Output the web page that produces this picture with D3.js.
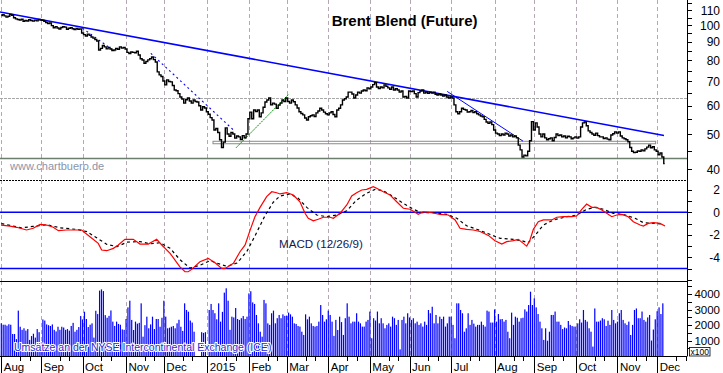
<!DOCTYPE html>
<html><head><meta charset="utf-8">
<script src="https://cdn.jsdelivr.net/npm/d3@7/dist/d3.min.js"></script>
<style>html,body{margin:0;padding:0;background:#fff;}svg{display:block;font-family:"Liberation Sans",Arial,sans-serif;}</style>
</head><body><svg id="c" width="723" height="373"></svg>
<script>
// ---- DATA (trading-day index 0 = 1 Aug 2014) ----
const closes = [
 // Aug 2014
 106.5,107.0,106.2,105.4,106.0,107.1,106.6,105.0,104.2,103.8,103.5,104.0,102.6,103.2,102.8,103.6,103.1,102.7,103.4,102.9,103.8,
 // Sep
 103.5,103.3,102.6,101.8,101.2,101.5,99.8,98.5,99.2,98.3,97.7,98.6,99.1,98.9,97.6,98.2,98.5,97.9,97.3,98.0,97.6,97.8,
 // Oct
 95.3,94.3,93.5,94.6,93.8,92.9,92.2,91.4,90.5,85.5,86.4,88.0,87.2,86.1,86.9,86.0,85.2,85.5,86.3,85.9,87.2,86.5,86.9,
 // Nov
 86.0,84.2,83.6,84.4,84.2,84.0,84.8,82.8,80.9,80.2,78.6,79.5,80.3,80.9,81.8,80.4,79.2,74.4,73.0,72.2,
 // Dec
 70.2,68.5,70.7,70.0,69.8,68.2,66.3,66.0,64.8,63.4,62.6,61.0,62.3,63.0,61.8,61.0,62.2,61.6,61.4,60.0,58.4,59.6,59.1,
 // Jan 2015
 57.7,56.8,55.6,54.8,51.4,51.9,50.6,48.3,46.0,47.6,52.1,50.1,49.4,50.6,50.1,48.8,49.5,49.2,48.4,49.6,48.9,50.1,
 // Feb
 55.2,57.6,55.2,58.4,57.8,58.4,55.9,57.3,59.4,61.4,62.2,63.0,60.3,61.0,60.6,59.0,60.2,61.0,62.2,61.6,
 // Mar
 63.0,61.6,61.0,62.2,61.5,60.3,59.1,57.7,57.1,56.6,55.5,54.8,55.9,56.3,56.6,56.0,57.3,58.0,59.0,58.4,57.6,57.0,
 // Apr
 56.6,57.3,57.7,56.7,55.9,58.4,59.0,60.3,62.2,62.7,63.4,65.4,65.4,64.6,63.0,64.2,65.4,65.0,65.9,66.3,66.0,67.2,
 // May
 66.8,67.6,68.6,69.4,67.6,66.9,67.6,67.2,68.5,67.9,67.2,66.6,67.6,66.3,66.8,66.3,65.4,65.9,63.4,63.6,63.0,
 // Jun
 65.9,65.6,65.9,64.8,63.4,65.2,65.9,66.3,65.0,65.4,64.9,65.4,65.0,65.4,64.5,64.2,64.6,64.2,63.8,64.2,63.4,63.0,
 // Jul
 63.4,63.0,60.3,57.7,57.0,57.7,59.0,58.6,58.4,57.6,57.7,58.2,57.4,57.7,57.0,56.6,56.2,55.9,55.0,54.1,53.6,54.1,53.2,
 // Aug
 51.4,50.4,50.1,49.6,50.1,49.8,50.4,50.1,49.5,49.8,49.2,49.5,48.9,46.7,45.3,43.3,43.8,43.6,44.9,48.0,54.2,
 // Sep
 51.4,53.8,52.4,50.1,49.2,50.1,48.9,48.3,48.6,48.9,48.0,49.0,50.1,49.6,49.8,49.2,49.5,48.9,49.4,49.2,48.6,48.9,
 // Oct
 49.2,48.8,49.2,52.4,53.8,54.1,52.8,51.1,50.6,50.1,49.7,50.4,49.6,49.2,49.2,48.7,48.9,48.5,48.3,49.8,50.2,50.8,
 // Nov
 50.4,50.8,49.5,48.9,48.6,48.3,47.7,46.0,44.9,44.5,44.6,45.0,44.9,45.3,45.0,45.6,46.1,46.7,45.9,46.2,45.3,
 // Dec
 44.9,43.9,44.4,43.3,41.5
];

const volumes = [
 2120,2030,2030,1970,2060,2030,1430,1430,1100,2940,1900,1700,1800,1650,1750,1050,1300,1450,1200,1750,1550,
 900,2370,2300,2050,2000,1950,2050,1700,1600,1900,1700,1900,1850,1700,1750,1650,1950,2150,1580,1700,1880,2590,
 2370,2870,2400,1880,2030,2120,1200,2930,2720,4230,4310,4200,2650,2480,2600,2950,2230,1950,2230,2080,2030,1730,1700,
 2400,3150,3580,2340,1690,2230,2100,2150,3410,1260,2000,2550,1800,2050,2550,1750,2400,2400,1900,2480,
 3580,2550,1800,1840,1900,1950,1800,2120,2350,1900,1630,3410,2980,2870,2300,2170,1580,0,0,0,1550,1500,1550,
 0,2980,3370,2980,2770,2380,3410,2230,2860,4100,4380,3580,1700,2550,2500,3110,2400,2340,2450,2590,2400,2550,
 4050,4190,3470,3370,2660,2120,1580,1260,3630,3410,2120,2020,2770,2940,2120,2450,2660,2450,2700,2600,
 2620,2810,2700,2550,2120,2080,1950,1910,1580,1370,2700,2380,2550,2120,1950,1910,1950,2230,3300,2660,2230,2380,
 2940,2660,2230,1310,2340,1690,2550,2200,1370,2450,3410,2550,2120,2230,2230,2770,2230,2120,1910,1910,2230,2340,
 2880,1160,2450,2300,2880,2120,2450,2120,1800,2020,2120,1910,2550,2450,2020,2340,440,2340,2550,2120,2770,
 2500,2340,2450,2120,2230,2020,2120,1910,2230,2020,2980,2770,3190,2120,2660,2120,2550,2400,2550,1910,2120,2550,
 2550,2020,1160,3410,3410,2980,2770,1580,1800,2770,2020,2340,2100,1910,2020,2020,2230,2020,1910,2940,2880,2170,2170,
 3020,2230,2720,2380,2400,2230,2340,1580,1160,2810,2020,2550,2480,2230,2450,2480,3020,2880,3300,4160,3300,
 3730,3150,2720,2230,1800,1050,1800,1000,1580,2660,2660,2880,2230,2230,2020,1750,1850,1800,2270,2020,1950,1910,
 1910,2120,2380,2170,2980,2340,2230,1800,1580,620,3080,2230,2230,2300,2450,2380,1950,2290,2020,2980,2340,2120,
 2230,2770,2980,2340,2120,2020,2230,1370,2020,2980,3080,2450,2450,2880,2340,2230,2500,2660,1010,1720,2380,
 2900,3150,2720,3410
];

// MACD (12/26/9): [trading day, value]
const macdLine = [[0,-1.14],[4.6,-1.22],[8.1,-1.33],[13.4,-1.57],[16.9,-1.42],[20.5,-1.07],[24,-1.13],[27.5,-1.33],[30.2,-1.63],[34.6,-1.57],[42.5,-1.57],[46.9,-2.17],[51.3,-2.76],[53.1,-3.35],[55.8,-3.41],[59.3,-3.2],[61.9,-2.9],[65.4,-2.4],[69.8,-2.4],[73.4,-2.82],[77.8,-2.82],[82.2,-2.4],[84.9,-2.9],[89.3,-3.64],[94.5,-4.84],[97.2,-5.28],[98.9,-5.28],[100.7,-5.07],[105.1,-4.39],[109.5,-4.09],[113.1,-4.48],[116.6,-4.98],[118.4,-4.98],[122.8,-4.53],[126.3,-3.5],[129,-2.9],[131.6,-1.6],[134.2,-0.39],[136.9,0.44],[140.4,1.39],[143.1,1.83],[145.7,1.74],[147.5,1.63],[151,1.74],[154.5,1.54],[158,0.94],[160.7,-0.09],[162.4,-0.53],[165.1,-0.75],[167.7,-0.62],[170.4,-0.44],[173.9,-0.44],[175.7,-0.53],[179.2,-0.09],[182.8,0.65],[185.4,1.45],[188,1.74],[190.7,1.98],[193.3,2.04],[196.8,2.28],[198.6,2.13],[202.1,1.83],[205.7,1.54],[209.2,0.94],[212.7,0.36],[216.3,0.27],[220.6,-0.18],[223.3,0.05],[227.7,-0.04],[232.1,-0.18],[236.5,-0.24],[240.1,-0.68],[242.7,-1.42],[246.2,-1.51],[249.7,-1.57],[253.3,-1.7],[257.7,-2.05],[261.2,-2.52],[264.8,-2.82],[267.4,-2.61],[270.9,-2.52],[273.5,-2.4],[276.2,-2.76],[278,-3.0],[279.7,-2.46],[281.5,-1.51],[284.1,-0.84],[286.8,-0.68],[291.2,-0.68],[293.9,-0.44],[297.4,-0.39],[301.8,-0.39],[304.4,-0.33],[307.1,0.27],[309.7,0.74],[312.4,0.44],[315,0.44],[317.7,0.2],[320.3,-0.09],[323,-0.39],[325.6,-0.24],[328.3,-0.18],[331.7,-0.39],[334.4,-0.84],[338,-1.13],[339.7,-1.22],[342.3,-0.98],[345,-0.92],[348.5,-0.98],[351.2,-1.22]];
const signalLine = [[0,-1.0],[10.6,-1.38],[16.8,-1.25],[24.2,-1.1],[31.1,-1.38],[40.1,-1.52],[45.3,-1.72],[52.2,-2.45],[55.9,-2.85],[61.2,-3.05],[66.5,-2.65],[73.4,-2.6],[78.7,-2.8],[84,-2.7],[89.3,-3.2],[94.5,-4.2],[99.8,-4.95],[105.1,-4.7],[110.4,-4.3],[115.7,-4.6],[119.4,-4.8],[124.7,-4.5],[126.3,-4.2],[130,-3.45],[134.2,-2.1],[139.5,-0.3],[143.9,0.9],[147.5,1.45],[152.7,1.63],[157.1,1.24],[161.6,0.44],[166.9,-0.24],[172.2,-0.39],[177.5,-0.24],[182.8,0.14],[188,1.09],[193.3,1.69],[197.7,2.04],[202.1,1.92],[207.4,1.39],[212.7,0.79],[218,0.27],[222.4,-0.04],[228.6,-0.04],[235.7,-0.18],[241,-0.53],[246.2,-1.2],[251.5,-1.5],[257.7,-1.9],[263.9,-2.31],[270.9,-2.4],[275.3,-2.52],[278.8,-2.7],[282.4,-2.05],[286.8,-1.13],[292.1,-0.68],[299.2,-0.39],[304.4,-0.24],[309.7,0.27],[314.1,0.44],[318.5,0.27],[323.8,-0.09],[329,-0.18],[335.3,-0.53],[339.7,-0.92],[345,-0.98],[350.3,-1.04]];

// trend / support lines: [trading day, price]
const longTrend = [[-0.7,108.9],[350.6,49.65]];
const dashTrend1 = [[42.9,98.2],[60.2,84.6]];
const dashTrend2 = [[79.1,83.7],[123.7,50.9]];
const greenTrend = [[124.2,45.9],[152.2,64.6]];
const shortTrend = [[235.9,65.7],[276.0,47.9]];
const gridLevel = 63.2;
const supportLevel = 43.0;
const supportBand = [[112,47.84],[346.2,47.1]];

// x axis
const monthLabels = ["Aug","Sep","Oct","Nov","Dec","2015","Feb","Mar","Apr","May","Jun","Jul","Aug","Sep","Oct","Nov","Dec"];
const monthStart  = [0,21,43,66,86,109,131,151,173,195,216,238,261,282,304,326,347];
const minorDays   = [10,15,31,36,53,58,76,81,96,101,119,124,141,146,161,166,183,188,205,210,226,231,248,253,271,276,292,297,314,319,336,341,357,362];

// y axes
const priceTicks = [40,45,50,55,60,65,70,75,80,85,90,95,100,105,110,115];
const priceLabels = [40,50,60,70,80,90,100,110];
const macdTicks = [-6,-5,-4,-3,-2,-1,0,1,2];
const macdLabels = [2,0,-2,-4];
const volTicks = [500,1000,1500,2000,2500,3000,3500,4000,4500];
const volLabels = [1000,2000,3000,4000];

// ---- DRAW ----
const svg = d3.select("#c");
const AX = 687.4;
const FONT = '"Liberation Sans", Arial, sans-serif';
const x = d3.scaleLinear().domain([0,363]).range([1.3, AX]);
const yP = d3.scaleLog().domain([37.4,117.5]).range([180,0]);
const yM = d3.scaleLinear().domain([-6.1,2.87]).range([281,180]);
const yV = d3.scaleLinear().domain([0,4850]).range([356.2,281]);
const px = v => Math.round(v) + 0.5;

// vertical dashed grid
[[0,180],[180,281],[281,356]].forEach(([a,b]) => {
  svg.append("g").selectAll("line").data(monthStart).join("line")
    .attr("x1", d => px(x(d))).attr("x2", d => px(x(d)))
    .attr("y1", a).attr("y2", b)
    .attr("stroke", "#b4a8b4").attr("stroke-dasharray", "4,3")
    .attr("shape-rendering", "crispEdges");
});

// price panel lines
svg.append("line").attr("x1",0).attr("x2",AX).attr("y1",px(yP(gridLevel))).attr("y2",px(yP(gridLevel)))
  .attr("stroke","#a8a8a8").attr("stroke-dasharray","3,1").attr("shape-rendering","crispEdges");
svg.append("line").attr("x1",0).attr("x2",AX).attr("y1",px(yP(supportLevel))).attr("y2",px(yP(supportLevel)))
  .attr("stroke","#6e7e6e").attr("stroke-width",1.3);
svg.append("rect")
  .attr("x", x(supportBand[0][0])).attr("y", yP(supportBand[0][1]))
  .attr("width", x(supportBand[1][0]) - x(supportBand[0][0]))
  .attr("height", yP(supportBand[1][1]) - yP(supportBand[0][1]))
  .attr("fill","none").attr("stroke","#8a8a8a").attr("stroke-width",1);

const tl = d3.line().x(d => x(d[0])).y(d => yP(d[1]));
svg.append("path").attr("d", tl(longTrend)).attr("stroke","#0000ff").attr("stroke-width",1.6).attr("fill","none");
svg.append("path").attr("d", tl(shortTrend)).attr("stroke","#0000ff").attr("stroke-width",1).attr("fill","none");
[dashTrend1, dashTrend2].forEach(t => svg.append("path").attr("d", tl(t))
  .attr("stroke","#0000ff").attr("stroke-width",1.1).attr("stroke-dasharray","2,3").attr("fill","none"));
svg.append("path").attr("d", tl(greenTrend)).attr("stroke","#009000").attr("stroke-width",1)
  .attr("stroke-dasharray","2,1").attr("fill","none");

// price
const priceLine = d3.line().x((d,i) => x(i)).y(d => yP(d)).curve(d3.curveStep);
svg.append("path").attr("d", priceLine(closes)).attr("fill","none").attr("stroke","#000").attr("stroke-width",1.4);

// panel separators
svg.append("line").attr("x1",0).attr("x2",AX).attr("y1",180.5).attr("y2",180.5)
  .attr("stroke","#000").attr("stroke-dasharray","2,1").attr("shape-rendering","crispEdges");
svg.append("line").attr("x1",0).attr("x2",AX).attr("y1",281.5).attr("y2",281.5)
  .attr("stroke","#000").attr("stroke-width",1.3).attr("shape-rendering","crispEdges");

// MACD panel
[0,-5].forEach(v => svg.append("line").attr("x1",0).attr("x2",AX).attr("y1",yM(v)).attr("y2",yM(v))
  .attr("stroke","#0000ff").attr("stroke-width",1.5));
const ml = d3.line().x(d => x(d[0])).y(d => yM(d[1]));
svg.append("path").attr("d", ml(signalLine)).attr("fill","none").attr("stroke","#000")
  .attr("stroke-width",1.2).attr("stroke-dasharray","3,3");
svg.append("path").attr("d", ml(macdLine)).attr("fill","none").attr("stroke","#ff0000").attr("stroke-width",1.2);

// volume
svg.append("g").selectAll("rect").data(volumes).join("rect")
  .attr("x",(d,i) => x(i) - 0.6).attr("width",1.2)
  .attr("y", d => yV(d)).attr("height", d => yV(0) - yV(d))
  .attr("fill","#0000ff");

// right axes
function styleAxis(g){
  g.select(".domain").remove();
  g.attr("font-family", FONT).attr("font-size", 12);
  g.selectAll(".tick line").attr("stroke","#000").attr("shape-rendering","crispEdges");
  g.selectAll(".tick text").attr("x", 32.6).attr("text-anchor","end").attr("fill","#000");
}
svg.append("g").attr("transform",`translate(${AX},0)`)
  .call(d3.axisRight(yP).tickValues(priceTicks).tickSize(5).tickFormat(d => priceLabels.includes(d) ? d : ""))
  .call(styleAxis);
svg.append("g").attr("transform",`translate(${AX},0)`)
  .call(d3.axisRight(yM).tickValues(macdTicks).tickSize(5).tickFormat(d => macdLabels.includes(d) ? (d<0?"-"+(-d):String(d)) : ""))
  .call(styleAxis);
const va = svg.append("g").attr("transform",`translate(${AX},0)`)
  .call(d3.axisRight(yV).tickValues(volTicks).tickSize(5).tickFormat(d => volLabels.includes(d) ? d : ""))
  .call(styleAxis);
va.selectAll(".tick text").attr("font-size", 11.5).attr("dy", "0.3em");
svg.append("line").attr("x1",px(AX)).attr("x2",px(AX)).attr("y1",0).attr("y2",356)
  .attr("stroke","#000").attr("shape-rendering","crispEdges");

// x100 box
svg.append("rect").attr("x",689.5).attr("y",347.5).attr("width",20.5).attr("height",8.5)
  .attr("fill","#fff").attr("stroke","#000").attr("stroke-width",0.8);
svg.append("text").attr("x",699.8).attr("y",354.8).attr("text-anchor","middle")
  .attr("font-family",FONT).attr("font-size",8.5).text("x100");

// bottom axis
const xa = svg.append("g").attr("transform","translate(0,356)")
  .call(d3.axisBottom(x).tickValues(monthStart).tickSize(17).tickFormat((d,i) => monthLabels[i]));
xa.select(".domain").attr("d", `M0,0.5H${AX}`).attr("stroke","#000");
xa.attr("font-family",FONT).attr("font-size",11.5);
xa.selectAll(".tick line").attr("shape-rendering","crispEdges");
xa.selectAll(".tick text").attr("text-anchor","start").attr("x",2).attr("y",15).attr("dy",0).attr("fill","#000");
const xm = svg.append("g").attr("transform","translate(0,356)")
  .call(d3.axisBottom(x).tickValues(minorDays).tickSize(5).tickFormat(""));
xm.select(".domain").remove();
xm.selectAll(".tick line").attr("shape-rendering","crispEdges");

// texts
svg.append("text").attr("x",331.7).attr("y",26).attr("font-family",FONT).attr("font-weight","bold")
  .attr("font-size",15).attr("fill","#000").text("Brent Blend (Future)");
svg.append("text").attr("x",10).attr("y",170).attr("font-family",FONT).attr("font-size",11)
  .attr("fill","#8a94a8").text("www.chartbuero.de");
svg.append("text").attr("x",279).attr("y",248).attr("font-family",FONT).attr("font-size",11.6)
  .attr("fill","#101850").text("MACD (12/26/9)");
svg.append("text").attr("x",14).attr("y",351).attr("font-family",FONT).attr("font-size",10.5)
  .attr("fill","#2a2ad0").attr("stroke","#fff").attr("stroke-width",2.2).attr("paint-order","stroke")
  .attr("stroke-linejoin","round")
  .text("Umsätze an der NYSE Intercontinental Exchange (ICE)");
</script></body></html>
